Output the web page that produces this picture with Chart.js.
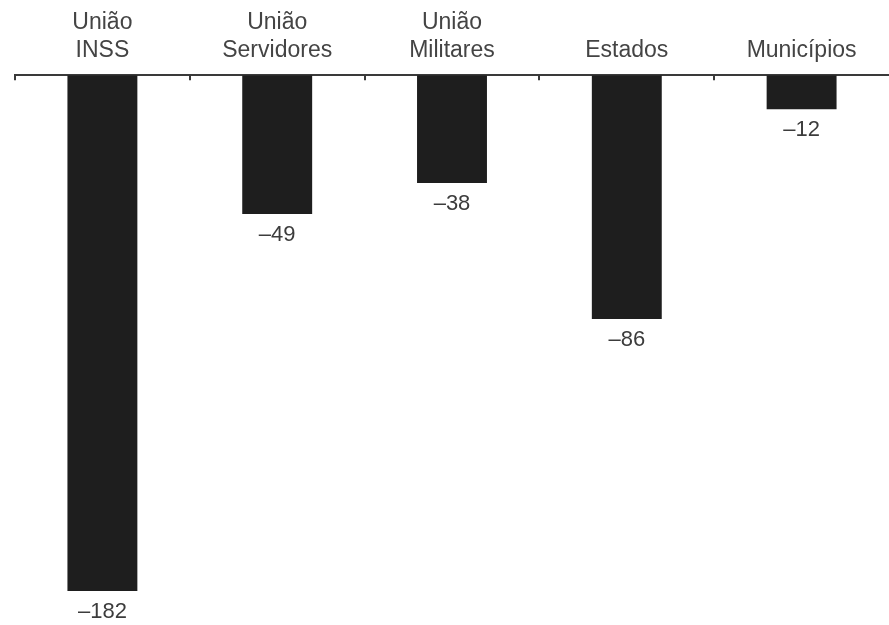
<!DOCTYPE html>
<html>
<head>
<meta charset="utf-8">
<script src="https://cdn.jsdelivr.net/npm/chart.js@4.4.1/dist/chart.umd.min.js"></script>
<style>
  html, body { margin: 0; padding: 0; background: #ffffff; }
  #wrap { width: 889px; height: 625px; }
</style>
</head>
<body>
<div id="wrap"><canvas id="c" width="889" height="625"></canvas></div>
<script>
// Categories (two-line labels) and their values
const categories = [
  ['União', 'INSS'],
  ['União', 'Servidores'],
  ['União', 'Militares'],
  ['Estados'],
  ['Municípios']
];
const values = [-182, -49, -38, -86, -12];

const FONT = 'Liberation Sans, Arial, Helvetica, sans-serif';

// Small tick marks hanging under the axis line at category boundaries
const boundaryTicks = {
  id: 'boundaryTicks',
  afterDraw(chart) {
    const x = chart.scales.x;
    const ctx = chart.ctx;
    const top = chart.chartArea.top;
    const half = (x.getPixelForValue(1) - x.getPixelForValue(0)) / 2;
    ctx.save();
    ctx.strokeStyle = '#3a3a3a';
    ctx.lineWidth = 2;
    for (let i = 0; i < categories.length; i++) {
      const px = Math.round(x.getPixelForValue(i) - half);
      ctx.beginPath();
      ctx.moveTo(px, top);
      ctx.lineTo(px, top + 5);
      ctx.stroke();
    }
    ctx.restore();
  }
};

// Value labels under each bar end
const valueLabels = {
  id: 'valueLabels',
  afterDatasetsDraw(chart) {
    const ctx = chart.ctx;
    const meta = chart.getDatasetMeta(0);
    ctx.save();
    ctx.font = '22px ' + FONT;
    ctx.fillStyle = '#3c3c3c';
    ctx.textAlign = 'center';
    ctx.textBaseline = 'middle';
    meta.data.forEach((bar, i) => {
      const v = values[i];
      const txt = '\u2013' + Math.abs(v);
      ctx.fillText(txt, bar.x, bar.y + 21);
    });
    ctx.restore();
  }
};

new Chart(document.getElementById('c'), {
  type: 'bar',
  data: {
    labels: categories,
    datasets: [{
      data: values,
      backgroundColor: '#1e1e1e',
      borderWidth: 0,
      barPercentage: 0.4,
      categoryPercentage: 1.0
    }]
  },
  options: {
    responsive: false,
    animation: false,
    layout: { padding: { top: -2, left: 15, right: 0, bottom: 0 } },
    plugins: {
      legend: { display: false },
      tooltip: { enabled: false }
    },
    scales: {
      x: {
        position: 'top',
        grid: { display: true, drawOnChartArea: false, drawTicks: false, color: 'rgba(0,0,0,0)' },
        border: { display: true, color: '#3a3a3a', width: 2 },
        ticks: {
          padding: 11,
          color: '#444444',
          font: { family: FONT, size: 23, lineHeight: 1.2 },
          maxRotation: 0,
          autoSkip: false
        }
      },
      y: {
        display: false,
        min: -194,
        max: 0
      }
    }
  },
  plugins: [boundaryTicks, valueLabels]
});
</script>
</body>
</html>
